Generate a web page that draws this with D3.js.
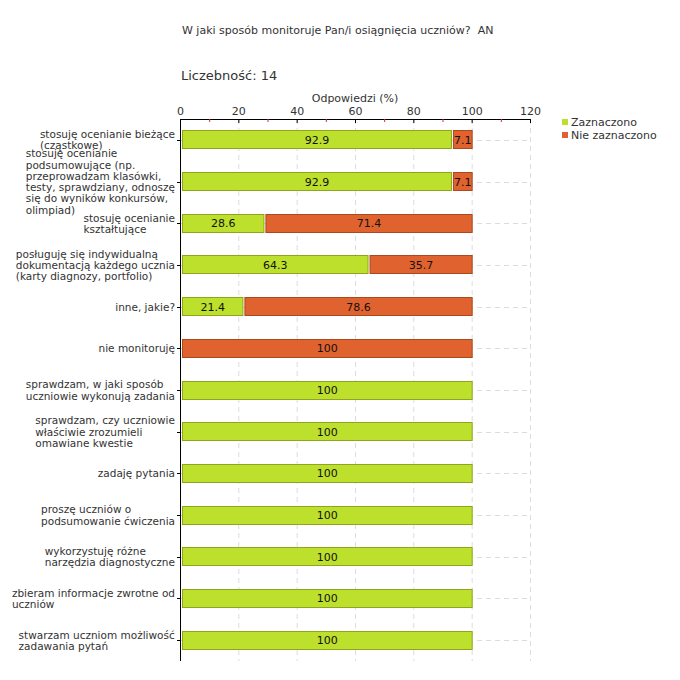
<!DOCTYPE html>
<html><head><meta charset="utf-8">
<script src="https://cdn.jsdelivr.net/npm/d3@7"></script>
<style>body{margin:0;background:#fff;} text{font-family:"DejaVu Sans",Verdana,sans-serif;}</style>
</head><body>
<svg id="c" width="680" height="680"></svg>
<script>
const categories = [
  ["stosuję ocenianie bieżące","(cząstkowe)"],
  ["stosuję ocenianie","podsumowujące (np.","przeprowadzam klasówki,","testy, sprawdziany, odnoszę","się do wyników konkursów,","olimpiad)"],
  ["stosuję ocenianie","kształtujące"],
  ["posługuję się indywidualną","dokumentacją każdego ucznia","(karty diagnozy, portfolio)"],
  ["inne, jakie?"],
  ["nie monitoruję"],
  ["sprawdzam, w jaki sposób","uczniowie wykonują zadania"],
  ["sprawdzam, czy uczniowie","właściwie zrozumieli","omawiane kwestie"],
  ["zadaję pytania"],
  ["proszę uczniów o","podsumowanie ćwiczenia"],
  ["wykorzystuję różne","narzędzia diagnostyczne"],
  ["zbieram informacje zwrotne od","uczniów"],
  ["stwarzam uczniom możliwość","zadawania pytań"]
];
const zaznaczono = [92.9, 92.9, 28.6, 64.3, 21.4, 0, 100, 100, 100, 100, 100, 100, 100];
const nieZaznaczono = [7.1, 7.1, 71.4, 35.7, 78.6, 100, 0, 0, 0, 0, 0, 0, 0];
const seriesNames = ["Zaznaczono", "Nie zaznaczono"];
const xTicks = [0, 20, 40, 60, 80, 100, 120];
const title = "W jaki sposób monitoruje Pan/i osiągnięcia uczniów?  AN";
const countLabel = "Liczebność: 14";
const axisTitle = "Odpowiedzi (%)";

const fills = ["#bde02c", "#e0622e"];
const strokes = ["#8ea61c", "#a94a1e"];

const svg = d3.select("#c");
const pL = 180, pR = 530, pT = 119, pB = 661;
const x = d3.scaleLinear().domain([0, 120]).range([pL, pR]);
const idx = categories.map((d, i) => i);
const y = d3.scaleBand().domain(idx).range([pT, pB]).paddingInner(0.545).paddingOuter(0.2725);

svg.append("text").attr("x", 182).attr("y", 34).attr("font-size", 11).attr("fill", "#333").attr("xml:space", "preserve").style("white-space", "pre").text(title);
svg.append("text").attr("x", 181).attr("y", 80).attr("font-size", 13).attr("fill", "#333").text(countLabel);
svg.append("text").attr("x", (pL + pR) / 2).attr("y", 102).attr("text-anchor", "middle").attr("font-size", 11).attr("fill", "#333").text(axisTitle);

// grid
const g = svg.append("g");
g.selectAll("line.v").data(xTicks.filter(t => t > 0)).join("line")
  .attr("x1", d => x(d) + 0.5).attr("x2", d => x(d) + 0.5).attr("y1", pT).attr("y2", pB)
  .attr("stroke", "#dcdcdc").attr("stroke-dasharray", "5,4");
g.selectAll("line.h").data(idx).join("line")
  .attr("x1", pL).attr("x2", pR).attr("y1", d => Math.round(y(d) + y.bandwidth() / 2) + 0.5).attr("y2", d => Math.round(y(d) + y.bandwidth() / 2) + 0.5)
  .attr("stroke", "#dcdcdc").attr("stroke-dasharray", "5,4");

// bars
const stacked = idx.map(i => {
  const vals = [zaznaczono[i], nieZaznaczono[i]];
  let c = 0;
  return vals.map((v, s) => { const r = {i, s, v, x0: c, x1: c + v}; c += v; return r; }).filter(r => r.v > 0);
}).flat();
const bars = svg.append("g");
bars.selectAll("rect").data(stacked).join("rect")
  .attr("x", d => x(d.x0) + 2.5).attr("y", d => Math.round(y(d.i)) + 0.5)
  .attr("width", d => x(d.x1) - x(d.x0) - 2).attr("height", Math.round(y.bandwidth()) - 1)
  .attr("fill", d => fills[d.s]).attr("stroke", d => strokes[d.s]);
bars.selectAll("text").data(stacked).join("text")
  .attr("x", d => (x(d.x0) + 2 + x(d.x1)) / 2 + 0.5).attr("y", d => y(d.i) + y.bandwidth() / 2 + 4)
  .attr("text-anchor", "middle").attr("font-size", 11).attr("fill", "#111").text(d => d.v);

// top axis
const ax = svg.append("g").attr("transform", `translate(0,${pT})`);
ax.call(d3.axisTop(x).tickValues(xTicks).tickSize(0).tickPadding(4));
ax.select(".domain").remove();
ax.selectAll("text").attr("font-size", 11).attr("fill", "#333").attr("font-family", "DejaVu Sans");
svg.append("line").attr("x1", pL).attr("x2", pR).attr("y1", pT + 0.5).attr("y2", pT + 0.5).attr("stroke", "#000");
svg.selectAll("line.maj").data(xTicks).join("line").attr("class", "maj")
  .attr("x1", d => x(d) + 0.5).attr("x2", d => x(d) + 0.5).attr("y1", pT).attr("y2", pT + 4).attr("stroke", "#000");
svg.selectAll("line.min").data(xTicks.slice(0, -1).map(t => t + 10)).join("line").attr("class", "min")
  .attr("x1", d => x(d) + 0.5).attr("x2", d => x(d) + 0.5).attr("y1", pT).attr("y2", pT + 3).attr("stroke", "#d03030");

// left axis
svg.append("line").attr("x1", pL + 0.5).attr("x2", pL + 0.5).attr("y1", pT).attr("y2", pB).attr("stroke", "#000");
svg.selectAll("line.yt").data(idx).join("line").attr("class", "yt")
  .attr("x1", pL - 3).attr("x2", pL).attr("y1", d => Math.round(y(d) + y.bandwidth() / 2) + 0.5).attr("y2", d => Math.round(y(d) + y.bandwidth() / 2) + 0.5)
  .attr("stroke", "#000");

// labels
const lh = 11.3;
const lab = svg.append("g");
idx.forEach(i => {
  const lines = categories[i];
  const cy = y(i) + y.bandwidth() / 2;
  const t = lab.append("text").attr("font-size", 10.5).attr("fill", "#333");
  const y0 = cy - (lines.length - 1) * lh / 2 + 4;
  lines.forEach((l, k) => t.append("tspan").attr("x", 0).attr("y", y0 + k * lh).text(l));
  const w = t.node().getBBox().width;
  t.selectAll("tspan").attr("x", 175 - w);
});

// legend
const lg = svg.append("g");
seriesNames.forEach((n, s) => {
  lg.append("rect").attr("x", 562).attr("y", 119 + s * 13).attr("width", 6).attr("height", 6).attr("fill", fills[s]);
  lg.append("text").attr("x", 571).attr("y", 126 + s * 13).attr("font-size", 11).attr("fill", "#333").text(n);
});
</script>
</body></html>
